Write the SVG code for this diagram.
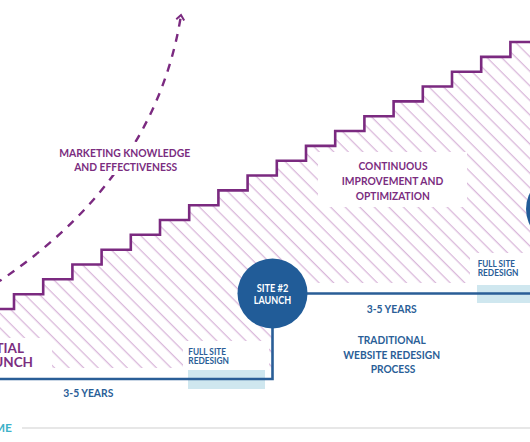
<svg xmlns="http://www.w3.org/2000/svg" width="530" height="442" viewBox="0 0 530 442">
  <defs>
    <style>
      text { font-family: Lato, "Liberation Sans", sans-serif; font-weight: 700; }
      .pur { fill: #7b2d7f; }
      .blu { fill: #2a5e97; }
      .wht { fill: #ffffff; }
      .mid { text-anchor: middle; }
      .stair { fill: none; stroke: #7b2a80; stroke-width: 2.6; }
      .bline { fill: none; stroke: #2a5e97; stroke-width: 2.6; }
      .lb { fill: #cfe7ef; }
      .mask { fill: #ffffff; }
    </style>
    <pattern id="hatch" patternUnits="userSpaceOnUse" width="10.3" height="10.3" patternTransform="rotate(-45)">
      <line x1="5" y1="-1" x2="5" y2="12" stroke="#d9b7da" stroke-width="1.3"/>
    </pattern>
    <marker id="chev" viewBox="0 0 10 10" refX="6" refY="5" markerWidth="10" markerHeight="10" markerUnits="userSpaceOnUse" orient="auto">
      <path d="M1,1 L6,5 L1,9" fill="none" stroke="#7b2a80" stroke-width="2"/>
    </marker>
  </defs>

  <!-- hatched area under staircase -->
  <g id="hatch-area">
    <path d="M-1,309 H14 V294.2 H43.2 V279.3 H72.4 V264.5 H101.6 V249.7 H130.8 V234.8 H160 V220 H189.2 V205.2 H218.4 V190.4 H247.6 V175.5 H276.8 V160.7 H306 V145.9 H335.2 V131 H364.4 V116.2 H393.6 V101.4 H422.8 V86.5 H452 V71.7 H481.2 V56.9 H510.4 V42 H531 V283 H272 V368 H-1 Z" fill="url(#hatch)"/>
  </g>

  <!-- time axis -->
  <g id="time-axis">
    <line x1="22" y1="428" x2="530" y2="428" stroke="#e7e7e7" stroke-width="2"/>
    <text x="12" y="432" text-anchor="end" font-size="12" fill="#3db2c9">TIME</text>
  </g>

  <!-- connectors -->
  <g id="connectors">
    <path d="M-5,284 C70,235 160,150 181,15" fill="none" stroke="#7b2a80" stroke-width="2.4" stroke-dasharray="8 7.5" marker-end="url(#chev)"/>
    <rect x="188" y="370" width="77" height="19" class="lb"/>
    <rect x="477" y="285" width="53" height="18" class="lb"/>
    <path class="bline" d="M0,379 H272.5 V293.5 H530"/>
  </g>

  <!-- staircase -->
  <g id="staircase">
    <path class="stair" d="M-1,309 H14 V294.2 H43.2 V279.3 H72.4 V264.5 H101.6 V249.7 H130.8 V234.8 H160 V220 H189.2 V205.2 H218.4 V190.4 H247.6 V175.5 H276.8 V160.7 H306 V145.9 H335.2 V131 H364.4 V116.2 H393.6 V101.4 H422.8 V86.5 H452 V71.7 H481.2 V56.9 H510.4 V42 H531"/>
  </g>

  <g id="marketing-label">
    <rect x="57" y="142" width="136" height="33" class="mask"/>
    <text class="pur mid" font-size="12" x="124.7" y="156.5" textLength="131" lengthAdjust="spacingAndGlyphs">MARKETING KNOWLEDGE</text>
    <text class="pur mid" font-size="12" x="125.7" y="171" textLength="103" lengthAdjust="spacingAndGlyphs">AND EFFECTIVENESS</text>
  </g>

  <g id="continuous-label">
    <rect x="318" y="152" width="149" height="55" class="mask"/>
    <text class="pur mid" font-size="12" x="393" y="170" textLength="69" lengthAdjust="spacingAndGlyphs">CONTINUOUS</text>
    <text class="pur mid" font-size="12" x="392.5" y="185.3" textLength="101.5" lengthAdjust="spacingAndGlyphs">IMPROVEMENT AND</text>
    <text class="pur mid" font-size="12" x="392.8" y="200" textLength="74" lengthAdjust="spacingAndGlyphs">OPTIMIZATION</text>
  </g>

  <g id="initial-launch">
    <rect x="0" y="338" width="52" height="31" class="mask"/>
    <text class="pur" font-size="13.5" x="24" y="353" text-anchor="end">INITIAL</text>
    <text class="pur" font-size="13.5" x="33" y="366.5" text-anchor="end">LAUNCH</text>
  </g>

  <g id="full-site-redesign-1">
    <rect x="183" y="341" width="86" height="28" class="mask"/>
    <text class="blu" font-size="9" x="188.3" y="354.5" textLength="37.7" lengthAdjust="spacingAndGlyphs">FULL SITE</text>
    <text class="blu" font-size="9" x="188.3" y="363.5" textLength="40.7" lengthAdjust="spacingAndGlyphs">REDESIGN</text>
  </g>

  <g id="full-site-redesign-2">
    <rect x="470" y="253" width="60" height="31" class="mask"/>
    <text class="blu" font-size="9" x="477.7" y="266.5" textLength="37.3" lengthAdjust="spacingAndGlyphs">FULL SITE</text>
    <text class="blu" font-size="9" x="477.7" y="275.5" textLength="40.7" lengthAdjust="spacingAndGlyphs">REDESIGN</text>
  </g>

  <g id="site2-launch">
    <circle cx="272.5" cy="293.5" r="35" fill="#215c98"/>
    <text class="wht mid" font-size="10.5" x="272.5" y="292" textLength="31.7" lengthAdjust="spacingAndGlyphs">SITE #2</text>
    <text class="wht mid" font-size="10.5" x="272.5" y="303.5" textLength="37.3" lengthAdjust="spacingAndGlyphs">LAUNCH</text>
  </g>

  <g id="site3-launch">
    <circle cx="561" cy="209" r="35" fill="#215c98"/>
  </g>

  <g id="years-1">
    <text class="blu mid" font-size="11.5" x="88.3" y="396.5" textLength="50" lengthAdjust="spacingAndGlyphs">3-5 YEARS</text>
  </g>

  <g id="years-2">
    <text class="blu mid" font-size="11.5" x="391.7" y="313" textLength="50" lengthAdjust="spacingAndGlyphs">3-5 YEARS</text>
  </g>

  <g id="traditional-label">
    <text class="blu mid" font-size="12" x="391.7" y="343.5" textLength="68" lengthAdjust="spacingAndGlyphs">TRADITIONAL</text>
    <text class="blu mid" font-size="12" x="391.7" y="358.5" textLength="96.7" lengthAdjust="spacingAndGlyphs">WEBSITE REDESIGN</text>
    <text class="blu mid" font-size="12" x="393" y="373" textLength="44.7" lengthAdjust="spacingAndGlyphs">PROCESS</text>
  </g>
</svg>
